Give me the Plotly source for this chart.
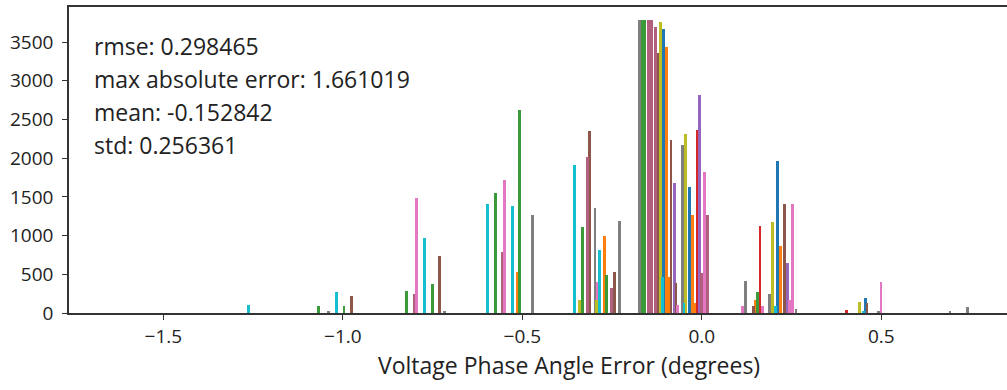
import plotly.graph_objects as go

# ---- data: (error in degrees, count) per colour series ----
blue_x = [-0.106, -0.035, 0.210, 0.456]
blue_y = [3670, 1630, 1965, 190]

orange_x = [-0.513, -0.272, -0.098, -0.090, -0.026, -0.019, 0.150, 0.218]
orange_y = [535, 995, 3430, 465, 1265, 130, 170, 870]

green_x = [-1.067, -0.997, -0.823, -0.751, -0.576, -0.507, -0.332, -0.265, -0.166, -0.159, 0.155]
green_y = [95, 95, 290, 380, 1555, 2620, 1115, 485, 3780, 3780, 265]

red_x = [-0.013, 0.162, 0.403]
red_y = [2365, 1125, 40]

purple_x = [-0.077, -0.006, 0.238]
purple_y = [1680, 2815, 650]

brown_x = [-0.975, -0.730, -0.312, -0.244, -0.122, -0.086, -0.072, 0.143, 0.230, 0.460]
brown_y = [220, 730, 2355, 535, 3360, 2235, 390, 95, 1410, 125]

mauve_x = [-0.800, -0.555, -0.318, -0.251, -0.149, -0.141, -0.130, -0.001, 0.015]
mauve_y = [245, 790, 2020, 320, 3780, 3780, 3690, 520, 1265]

pink_x = [-0.794, -0.550, -0.292, -0.067, 0.007, 0.113, 0.168, 0.245, 0.252, 0.499]
pink_y = [1480, 1720, 405, 100, 1820, 95, 95, 170, 1410, 405]

gray_x = [-1.040, -0.718, -0.471, -0.298, -0.230, -0.174, -0.054, 0.121, 0.189, 0.262, 0.491, 0.691, 0.739]
gray_y = [20, 25, 1260, 1360, 1190, 3780, 2170, 415, 245, 50, 20, 15, 75]

olive_x = [-0.340, -0.293, -0.116, -0.046, 0.196, 0.440]
olive_y = [170, 170, 3760, 2310, 1170, 140]

cyan_x = [-1.262, -1.017, -0.772, -0.597, -0.528, -0.354, -0.286, -0.109, -0.050, 0.204, 0.450]
cyan_y = [100, 270, 970, 1410, 1380, 1910, 820, 465, 130, 95, 30]

series = [
    ("blue", blue_x, blue_y, "#1f77b4"),
    ("orange", orange_x, orange_y, "#ff7f0e"),
    ("green", green_x, green_y, "#3a9a3a"),
    ("red", red_x, red_y, "#d62728"),
    ("purple", purple_x, purple_y, "#9467bd"),
    ("brown", brown_x, brown_y, "#8c564b"),
    ("mauve", mauve_x, mauve_y, "#b0607e"),
    ("pink", pink_x, pink_y, "#e377c2"),
    ("gray", gray_x, gray_y, "#7f7f7f"),
    ("olive", olive_x, olive_y, "#bcbd22"),
    ("cyan", cyan_x, cyan_y, "#17becf"),
]

stats = ["rmse: 0.298465", "max absolute error: 1.661019", "mean: -0.152842", "std: 0.256361"]
x_title = "Voltage Phase Angle Error (degrees)"

x_ticks = [-1.5, -1.0, -0.5, 0.0, 0.5]
x_tick_labels = ["\u22121.5", "\u22121.0", "\u22120.5", "0.0", "0.5"]
y_ticks = [0, 500, 1000, 1500, 2000, 2500, 3000, 3500]

fig = go.Figure()
for name, xs, ys, col in series:
    fig.add_trace(go.Bar(x=xs, y=ys, name=name, width=0.0078,
                         marker=dict(color=col, line=dict(width=0)),
                         showlegend=False))

FONT = "Open Sans"
for i, s in enumerate(stats):
    fig.add_annotation(xref="paper", yref="paper", x=0.0245, y=(313 - (46 + 33 * i)) / 306,
                       xanchor="left", yanchor="middle", text=s, showarrow=False,
                       font=dict(family=FONT, size=23, color="#222222"))

# x-axis title (the original axes extends past the right edge, so its label sits right of centre)
fig.add_annotation(xref="paper", yref="paper", x=0.533, y=(313 - 365) / 306,
                   xanchor="center", yanchor="middle", text=x_title, showarrow=False,
                   font=dict(family=FONT, size=23, color="#222222"))

fig.update_layout(
    width=1007, height=390,
    margin=dict(l=69, r=0, t=7, b=77),
    paper_bgcolor="white", plot_bgcolor="white",
    barmode="overlay", bargap=0,
    font=dict(family=FONT, size=19, color="#222222"),
)
fig.update_xaxes(range=[-1.763, 0.850], tickvals=x_ticks, ticktext=x_tick_labels,
                 showgrid=False, zeroline=False, showline=True, linecolor="#333333",
                 linewidth=1.5, mirror=True, ticks="outside", ticklen=5, tickcolor="#333333",
                 tickfont=dict(size=19))
fig.update_yaxes(range=[0, 3952], tickvals=y_ticks, showgrid=False, zeroline=False,
                 showline=True, linecolor="#333333", linewidth=1.5, mirror=False,
                 ticks="outside", ticklen=5, tickcolor="#333333", tickfont=dict(size=19),
                 ticklabelstandoff=5)

fig.write_html("out.html")
